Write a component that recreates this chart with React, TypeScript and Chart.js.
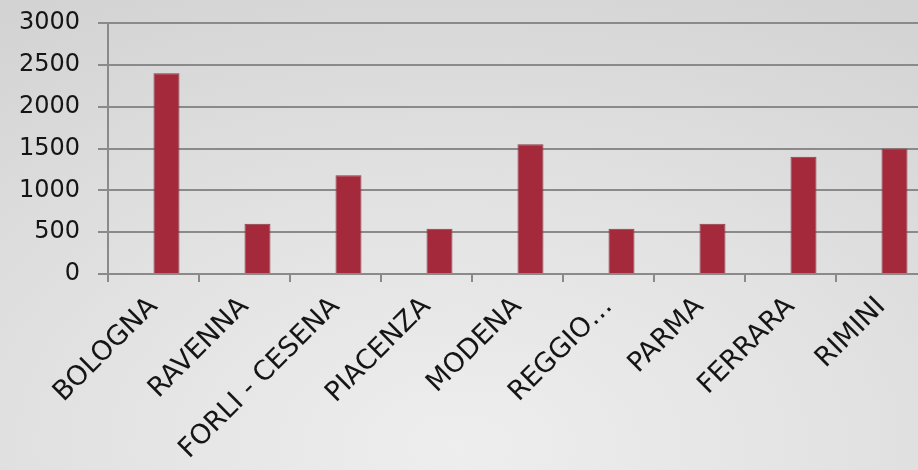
import React, { useEffect, useRef } from "react";
import { Chart, registerables } from "chart.js";

Chart.register(...registerables);

const categories = [
  "BOLOGNA",
  "RAVENNA",
  "FORLI - CESENA",
  "PIACENZA",
  "MODENA",
  "REGGIO…",
  "PARMA",
  "FERRARA",
  "RIMINI",
];
// Excel-style chart: an empty first series leaves the visible bar right of centre
const emptySeries: (number | null)[] = [];
const values = [2400, 600, 1180, 540, 1550, 540, 600, 1400, 1500];
const yTicks = [0, 500, 1000, 1500, 2000, 2500, 3000];

const FONT = "'DejaVu Sans', Verdana, sans-serif";

export default function App() {
  const ref = useRef<HTMLCanvasElement>(null);

  useEffect(() => {
    if (!ref.current) return;
    const chart = new Chart(ref.current, {
      type: "bar",
      data: {
        labels: categories,
        datasets: [
          {
            data: emptySeries,
            backgroundColor: "transparent",
            categoryPercentage: 0.571,
            barPercentage: 1,
          },
          {
            data: values,
            backgroundColor: "#A3293B",
            borderColor: "#8c3a46",
            borderWidth: 1,
            categoryPercentage: 0.571,
            barPercentage: 1,
          },
        ],
      },
      options: {
        animation: false,
        responsive: true,
        maintainAspectRatio: false,
        layout: { padding: { top: 23, right: 3, left: 0, bottom: 0 } },
        plugins: { legend: { display: false }, tooltip: { enabled: false } },
        scales: {
          x: {
            grid: {
              drawOnChartArea: false,
              drawTicks: true,
              tickLength: 8,
              color: "#8a8a8a",
              lineWidth: 2,
            },
            border: { color: "#8a8a8a", width: 2 },
            ticks: {
              minRotation: 45,
              maxRotation: 45,
              autoSkip: false,
              color: "#151515",
              padding: 9,
              font: { family: FONT, size: 27 },
            },
            afterFit: (s: any) => {
              s.height = 196;
              s.paddingLeft = 0;
              s.paddingRight = 0;
            },
          },
          y: {
            min: 0,
            max: 3000,
            afterBuildTicks: (s: any) => {
              s.ticks = yTicks.map((v) => ({ value: v }));
            },
            ticks: {
              padding: 18,
              color: "#151515",
              font: { family: FONT, size: 24 },
              callback: (v: any) => String(v),
            },
            grid: { color: "#8a8a8a", lineWidth: 2, tickLength: 10 },
            border: { color: "#8a8a8a", width: 2 },
            afterFit: (s: any) => {
              s.width = 108;
              s.paddingTop = 0;
              s.paddingBottom = 0;
            },
          },
        },
      },
    });
    return () => chart.destroy();
  }, []);

  return (
    <div
      style={{
        position: "fixed",
        left: 0,
        top: 0,
        width: 918,
        height: 470,
        overflow: "hidden",
        background:
          "radial-gradient(ellipse 90% 110% at 50% 95%, #eeeeee 0%, #e3e3e3 45%, #d3d3d3 100%)",
      }}
    >
      <div style={{ position: "absolute", left: 0, top: 0, width: 930, height: 470 }}>
        <canvas ref={ref} />
      </div>
    </div>
  );
}
